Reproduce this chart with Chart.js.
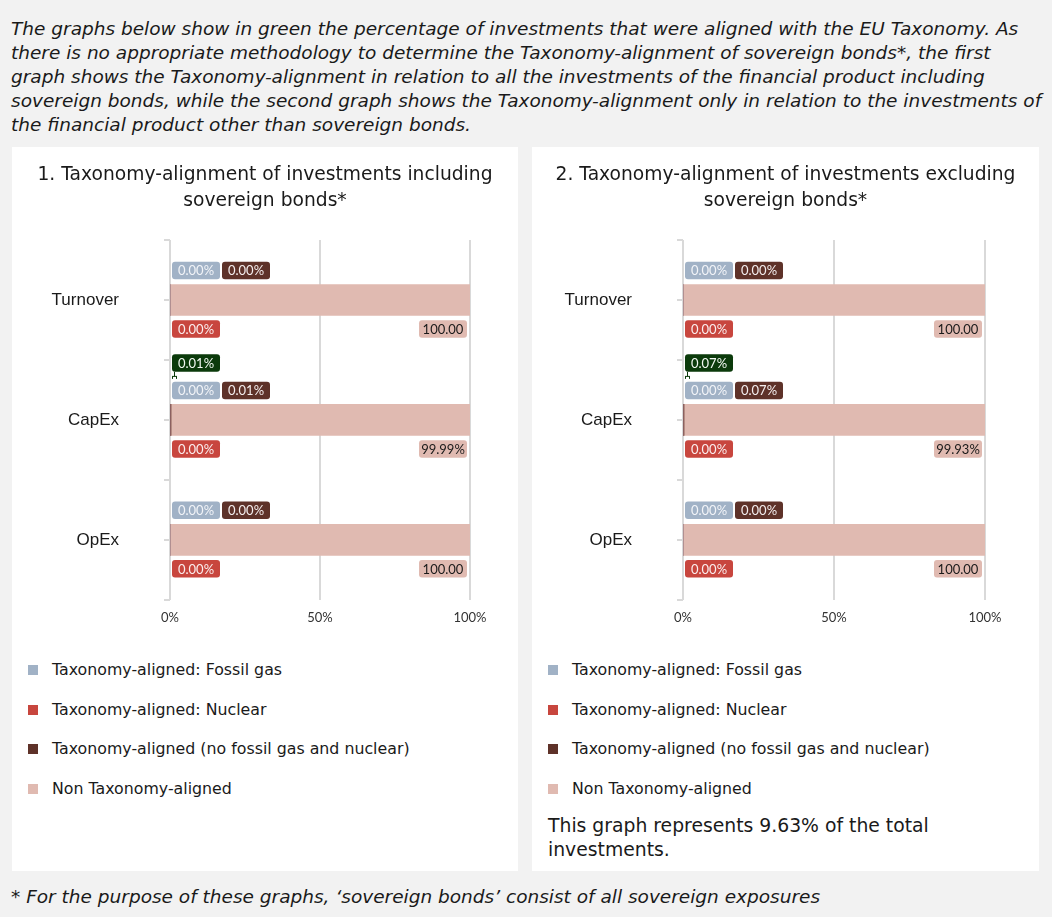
<!DOCTYPE html>
<html>
<head>
<meta charset="utf-8">
<script src="https://cdn.jsdelivr.net/npm/chart.js@4/dist/chart.umd.min.js"></script>
<style>
  body { margin: 0; width: 1052px; height: 917px; background: #f2f2f2; position: relative; overflow: hidden;
         font-family: "DejaVu Sans", sans-serif; color: #1a1a1a; }
  .intro { position: absolute; left: 11px; top: 17px; font-size: 18.5px; line-height: 24px; font-style: italic; white-space: nowrap; }
  .footer { position: absolute; left: 11px; top: 885px; font-size: 18.5px; line-height: 24px; font-style: italic; white-space: nowrap; }
  .panel { position: absolute; top: 147px; height: 724px; background: #fff; }
  .panel canvas { position: absolute; left: 0; top: 0; }
  .legend { position: absolute; left: 0; top: 511px; margin: 0; padding: 0; list-style: none; }
  .legend li { position: relative; height: 24px; margin-bottom: 15.5px; font-size: 15.8px; line-height: 24px; padding-left: 40px; white-space: nowrap; }
  .legend li span { position: absolute; left: 16px; top: 7px; width: 10px; height: 10px; }
  .note { position: absolute; left: 16px; top: 667px; font-size: 18.8px; line-height: 24px; width: 395px; }
</style>
</head>
<body>
<div class="intro">The graphs below show in green the percentage of investments that were aligned with the EU Taxonomy. As<br>there is no appropriate methodology to determine the Taxonomy-alignment of sovereign bonds*, the first<br>graph shows the Taxonomy-alignment in relation to all the investments of the financial product including<br>sovereign bonds, while the second graph shows the Taxonomy-alignment only in relation to the investments of<br>the financial product other than sovereign bonds.</div>

<div class="panel" style="left:12px; width:506px;">
  <canvas id="chartIncl" width="506" height="506"></canvas>
  <ul class="legend" id="legendIncl"></ul>
</div>
<div class="panel" style="left:532px; width:507px;">
  <canvas id="chartExcl" width="507" height="506"></canvas>
  <ul class="legend" id="legendExcl"></ul>
  <div class="note" id="noteExcl"></div>
</div>

<div class="footer">* For the purpose of these graphs, ‘sovereign bonds’ consist of all sovereign exposures</div>

<script>
const categories = ['Turnover', 'CapEx', 'OpEx'];
const seriesNames = [
    'Taxonomy-aligned: Fossil gas',
    'Taxonomy-aligned: Nuclear',
    'Taxonomy-aligned (no fossil gas and nuclear)',
    'Non Taxonomy-aligned'
];
const seriesColors = ['#a1b2c6', '#c8463e', '#5e3229', '#e0bab1'];
const totalColor = '#0b3a0b';
const xTicks = [0, 50, 100];

// graph 1: including sovereign bonds
const fossilGasIncl = [0, 0, 0];
const nuclearIncl = [0, 0, 0];
const otherAlignedIncl = [0, 0.01, 0];
const nonAlignedIncl = [100, 99.99, 100];
const totalAlignedIncl = [null, 0.01, null];

// graph 2: excluding sovereign bonds
const fossilGasExcl = [0, 0, 0];
const nuclearExcl = [0, 0, 0];
const otherAlignedExcl = [0, 0.07, 0];
const nonAlignedExcl = [100, 99.93, 100];
const totalAlignedExcl = [null, 0.07, null];

const shareOfTotal = 9.63;

const titleIncl = ['1. Taxonomy-alignment of investments including', 'sovereign bonds*'];
const titleExcl = ['2. Taxonomy-alignment of investments excluding', 'sovereign bonds*'];

const pct = v => v.toFixed(2) + '%';
// the 100 labels lost their % sign in the original
const pctBar = v => v >= 100 ? v.toFixed(2) : v.toFixed(2) + '%';

function drawBox(ctx, x, yMid, text, bg, fg, fromRight) {
    const w = 48, h = 17.5;
    const left = fromRight ? x - w : x;
    ctx.fillStyle = bg;
    ctx.beginPath();
    ctx.roundRect(left, yMid - h / 2, w, h, 3);
    ctx.fill();
    ctx.fillStyle = fg;
    ctx.fillText(text, left + w / 2, yMid + 0.5);
    return left + w;
}

const boxLabels = {
    id: 'boxLabels',
    afterDatasetsDraw(chart, args, opts) {
        const ctx = chart.ctx;
        const x0 = chart.scales.x.getPixelForValue(0);
        const metas = chart.data.datasets.map((d, i) => chart.getDatasetMeta(i));
        const ds = chart.data.datasets;
        ctx.save();
        ctx.font = '13px Lato';
        ctx.textAlign = 'center';
        ctx.textBaseline = 'middle';
        categories.forEach((cat, j) => {
            const bar = metas[3].data[j];
            const yc = bar.y, half = bar.height / 2;
            const yTop = yc - half - 14;
            const yBot = yc + half + 13.5;
            const next = drawBox(ctx, metas[0].data[j].base + 2, yTop, pct(ds[0].data[j]), seriesColors[0], '#f2f4f8');
            drawBox(ctx, next + 2, yTop, pct(ds[2].data[j]), seriesColors[2], '#f4eeee');
            drawBox(ctx, metas[1].data[j].base + 2, yBot, pct(ds[1].data[j]), seriesColors[1], '#fbeeee');
            drawBox(ctx, bar.x - 3, yBot, pctBar(ds[3].data[j]), seriesColors[3], '#1a1a1a', true);
            const tot = opts.totals[j];
            if (tot != null) {
                const yG = yTop - 27.5;
                drawBox(ctx, x0 + 2, yG, pct(tot), totalColor, '#f2f8f2');
                // little leader line down to the bar start
                ctx.strokeStyle = totalColor;
                ctx.lineWidth = 1;
                ctx.beginPath();
                ctx.moveTo(x0 + 4.5, yG + 9);
                ctx.lineTo(x0 + 4.5, yG + 13.5);
                ctx.moveTo(x0 + 2, yG + 13.5);
                ctx.lineTo(x0 + 7, yG + 13.5);
                ctx.moveTo(x0 + 2.5, yG + 13.5);
                ctx.lineTo(x0 + 2.5, yG + 16);
                ctx.moveTo(x0 + 6.5, yG + 13.5);
                ctx.lineTo(x0 + 6.5, yG + 16);
                ctx.stroke();
            }
        });
        ctx.restore();
    }
};

// small marks on the category axis, at centres and between categories
const catTicks = {
    id: 'catTicks',
    afterDraw(chart) {
        const y = chart.scales.y, ctx = chart.ctx;
        const x0 = chart.chartArea.left;
        const step = y.getPixelForValue(1) - y.getPixelForValue(0);
        ctx.save();
        ctx.strokeStyle = '#d9d9d9';
        ctx.lineWidth = 2;
        ctx.beginPath();
        for (let i = 0; i < categories.length; i++) {
            const p = y.getPixelForValue(i);
            [p - step / 2, p, p + step / 2].forEach(t => {
                ctx.moveTo(x0 - 6, Math.round(t));
                ctx.lineTo(x0, Math.round(t));
            });
        }
        ctx.stroke();
        ctx.restore();
    }
};

function makeChart(id, series, totals, title, plotLeft, plotRight) {
    const canvas = document.getElementById(id);
    return new Chart(canvas, {
        type: 'bar',
        data: {
            labels: categories,
            datasets: series.map((vals, i) => ({
                label: seriesNames[i],
                data: vals,
                backgroundColor: seriesColors[i],
                borderWidth: 0,
                barThickness: 31
            }))
        },
        options: {
            indexAxis: 'y',
            responsive: false,
            animation: false,
            devicePixelRatio: 1,
            layout: { padding: { left: 0, right: 0, top: 0, bottom: 11 } },
            scales: {
                x: {
                    stacked: true,
                    min: 0,
                    max: 100,
                    afterBuildTicks: s => { s.ticks = xTicks.map(v => ({ value: v })); },
                    ticks: { callback: v => v + '%', font: { family: 'Lato', size: 13 }, color: '#333', padding: 10, maxRotation: 0 },
                    grid: { color: '#d9d9d9', lineWidth: 2, drawTicks: false },
                    border: { display: false }
                },
                y: {
                    stacked: true,
                    afterFit: s => { s.width = plotLeft; },
                    ticks: { font: { family: 'Liberation Sans', size: 17 }, color: '#1a1a1a', padding: 43 },
                    grid: { display: false },
                    border: { display: false }
                },
                // empty axis on the right, only to keep the white margin there
                spacer: {
                    type: 'linear',
                    position: 'right',
                    afterFit: s => { s.width = canvas.width - plotRight; },
                    ticks: { display: false },
                    grid: { display: false },
                    border: { display: false }
                }
            },
            plugins: {
                legend: { display: false },
                tooltip: { enabled: false },
                title: {
                    display: true,
                    text: title,
                    color: '#1a1a1a',
                    font: { family: 'DejaVu Sans', size: 18.7, weight: 'normal', lineHeight: 1.39 },
                    padding: { top: 15, bottom: 26 }
                },
                boxLabels: { totals: totals }
            }
        },
        plugins: [boxLabels, catTicks]
    });
}

function fillLegend(id) {
    document.getElementById(id).innerHTML = seriesNames.map((n, i) =>
        `<li><span style="background:${seriesColors[i]}"></span>${n}</li>`).join('');
}

makeChart('chartIncl', [fossilGasIncl, nuclearIncl, otherAlignedIncl, nonAlignedIncl], totalAlignedIncl, titleIncl, 158, 458);
makeChart('chartExcl', [fossilGasExcl, nuclearExcl, otherAlignedExcl, nonAlignedExcl], totalAlignedExcl, titleExcl, 151, 453);
fillLegend('legendIncl');
fillLegend('legendExcl');
document.getElementById('noteExcl').textContent = `This graph represents ${shareOfTotal}% of the total investments.`;
</script>
</body>
</html>
